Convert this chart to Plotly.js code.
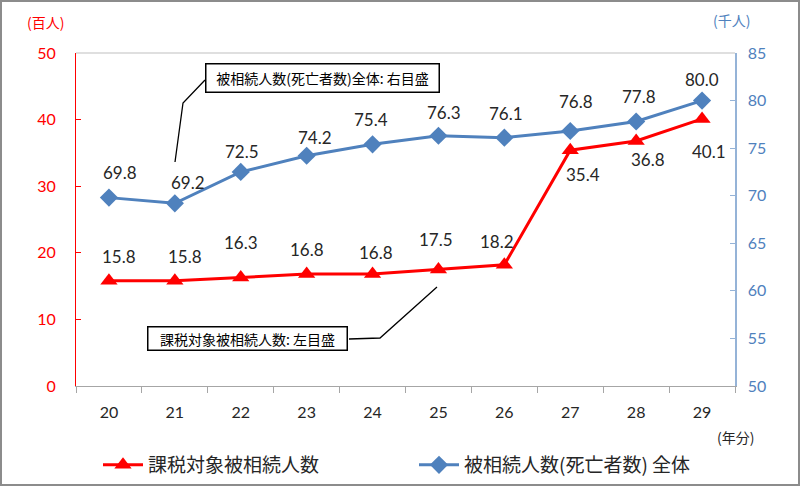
<!DOCTYPE html>
<html><head><meta charset="utf-8">
<script src="https://cdn.plot.ly/plotly-3.0.1.min.js"></script>
<style>
html,body{margin:0;padding:0;background:#fff;}
#wrap{position:relative;width:800px;height:486px;}
#chart{width:800px;height:486px;}
#frame{position:absolute;left:0;top:0;width:800px;height:486px;box-sizing:border-box;border:2px solid #8c8c8c;pointer-events:none;}
</style></head>
<body><div id="wrap"><div id="chart"></div><div id="frame"></div></div>
<script>
// ---- data ----
const years = ['20','21','22','23','24','25','26','27','28','29'];
const taxedDecedents = [15.8, 15.8, 16.3, 16.8, 16.8, 17.5, 18.2, 35.4, 36.8, 40.1]; // 百人
const allDecedents = [69.8, 69.2, 72.5, 74.2, 75.4, 76.3, 76.1, 76.8, 77.8, 80.0];   // 千人
const nameTaxed = '課税対象被相続人数';
const nameAll = '被相続人数(死亡者数) 全体';

// ---- label placement (styling) ----
const redShiftX = [10, 10, 0, 0, 3, -2, -7, 13, 12, 7];
const redShiftY = [24, 24, 35, 25, 22, 30, 23, -24, -19, -33];
const blueShiftX = [11, 13, 1, 8, -2, 6, 2, 6, 3, 0];
const blueShiftY = [25, 21, 20, 18, 25, 23, 24, 30, 25, 21];

const L = 76, R = 735, T = 53, B = 386;
const px = x => (x - L) / (R - L);
const py = y => (B - y) / (B - T);

const numFont = {family: 'Lato, "Noto Sans", sans-serif', size: 17, color: '#262626'};
const jpFont = '"Noto Sans CJK JP", sans-serif';

const annotations = [];
years.forEach((c, i) => {
  annotations.push({x: i, y: taxedDecedents[i], xref: 'x', yref: 'y', text: taxedDecedents[i].toFixed(1),
    showarrow: false, xanchor: 'center', yanchor: 'middle', xshift: redShiftX[i], yshift: redShiftY[i], font: numFont});
  annotations.push({x: i, y: allDecedents[i], xref: 'x', yref: 'y2', text: allDecedents[i].toFixed(1),
    showarrow: false, xanchor: 'center', yanchor: 'middle', xshift: blueShiftX[i], yshift: blueShiftY[i], font: numFont});
});
const paperNote = (x, y, text, font, extra) => Object.assign({xref: 'paper', yref: 'paper', x: px(x), y: py(y),
  text: text, showarrow: false, xanchor: 'center', yanchor: 'middle', font: font}, extra || {});
annotations.push(
  paperNote(45, 22, '(百人)', {family: jpFont, size: 14, color: '#FF0000'}),
  paperNote(731, 20, '(千人)', {family: jpFont, size: 14, color: '#4F81BD'}),
  paperNote(735, 437, '(年分)', {family: jpFont, size: 14, color: '#262626'}),
  paperNote(322, 78, '被相続人数(死亡者数)全体: 右目盛', {family: jpFont, size: 14, color: '#000'},
    {bordercolor: '#000', borderwidth: 1.5, borderpad: 3, bgcolor: '#fff', width: 226, height: 21}),
  paperNote(247, 338, '課税対象被相続人数: 左目盛', {family: jpFont, size: 14, color: '#000'},
    {bordercolor: '#000', borderwidth: 1.5, borderpad: 2, bgcolor: '#fff', width: 194, height: 18})
);

const shapes = [
  {type: 'line', xref: 'paper', yref: 'paper', x0: 0, x1: 1, y0: 1, y1: 1, line: {color: '#BFBFBF', width: 1}},
  {type: 'path', xref: 'paper', yref: 'paper',
   path: `M ${px(205)} ${py(80)} L ${px(183)} ${py(103)} L ${px(175)} ${py(162)}`, line: {color: '#000', width: 1.3}},
  {type: 'path', xref: 'paper', yref: 'paper',
   path: `M ${px(349)} ${py(339)} L ${px(380)} ${py(338)} L ${px(437)} ${py(287)}`, line: {color: '#000', width: 1.3}}
];

const traces = [
  {x: years, y: taxedDecedents, name: nameTaxed, type: 'scatter', mode: 'lines+markers', yaxis: 'y',
   line: {color: '#FF0000', width: 3}, marker: {symbol: 'triangle-up', size: 15, color: '#FF0000'}},
  {x: years, y: allDecedents, name: nameAll, type: 'scatter', mode: 'lines+markers', yaxis: 'y2',
   line: {color: '#4F81BD', width: 3}, marker: {symbol: 'diamond', size: 14, color: '#4F81BD'}}
];

const layout = {
  width: 800, height: 486,
  margin: {l: L, r: 800 - R, t: T, b: 486 - B, pad: 0, autoexpand: false},
  paper_bgcolor: '#fff', plot_bgcolor: '#fff',
  showlegend: true,
  legend: {orientation: 'h', x: px(98), y: py(465), xanchor: 'left', yanchor: 'middle',
    entrywidth: 261, entrywidthmode: 'pixels', itemwidth: 40,
    font: {family: jpFont, size: 19, color: '#262626'}, bgcolor: 'rgba(0,0,0,0)'},
  xaxis: {type: 'category', showgrid: false, zeroline: false, showline: true, linecolor: '#A6A6A6', linewidth: 1,
    ticks: 'outside', tickson: 'boundaries', ticklen: 6, tickcolor: '#A6A6A6',
    tickfont: {family: 'Lato, "Noto Sans", sans-serif', size: 16, color: '#262626'}, ticklabelstandoff: 12,
    range: [-0.5, 9.5]},
  yaxis: {range: [0, 50], dtick: 10, showgrid: false, zeroline: false, showline: true, linecolor: '#FF0000', linewidth: 1,
    ticks: 'inside', ticklen: 5, tickcolor: '#FF0000', ticklabelstandoff: 16,
    tickfont: {family: 'Lato, "Noto Sans", sans-serif', size: 16, color: '#FF0000'}},
  yaxis2: {range: [50, 85], dtick: 5, overlaying: 'y', side: 'right', showgrid: false, zeroline: false,
    showline: true, linecolor: '#95B3D7', linewidth: 1.5, ticks: 'inside', ticklen: 5, tickcolor: '#95B3D7',
    ticklabelstandoff: 8, tickfont: {family: 'Lato, "Noto Sans", sans-serif', size: 16, color: '#4F81BD'}},
  annotations: annotations,
  shapes: shapes
};

Plotly.newPlot('chart', traces, layout, {displayModeBar: false, staticPlot: true});
</script></body></html>
